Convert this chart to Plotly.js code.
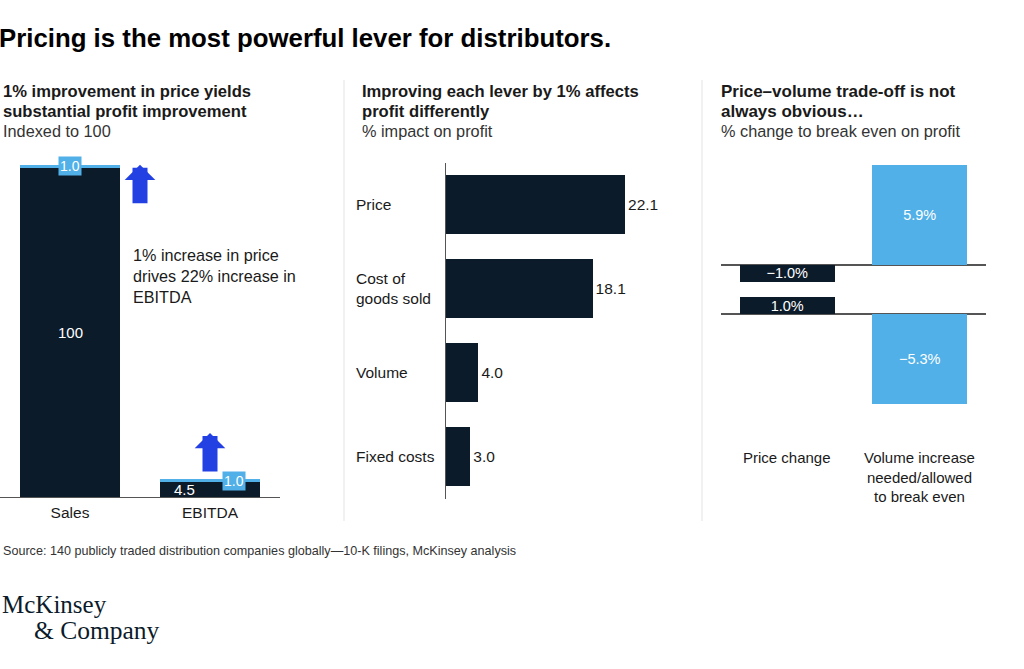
<!DOCTYPE html>
<html>
<head>
<meta charset="utf-8">
<script src="https://cdn.plot.ly/plotly-3.0.1.min.js"></script>
<style>
  html, body { margin: 0; padding: 0; background: #fff; }
  #chart { width: 1024px; height: 669px; }
</style>
</head>
<body>
<div id="chart"></div>
<script>
// ---------- DATA ----------
const p1Categories = ['Sales', 'EBITDA'];
const p1Base = [100, 4.5];
const p1Increase = [1.0, 1.0];

const p2Levers = ['Price', 'Cost of<br>goods sold', 'Volume', 'Fixed costs'];
const p2Impact = [22.1, 18.1, 4.0, 3.0];

const p3Categories = ['Price change', 'Volume increase<br>needed/allowed<br>to break even'];
const p3PriceCut = [-1.0, 5.9];   // price down 1% -> volume needed
const p3PriceRise = [1.0, -5.3];  // price up 1% -> volume allowed to drop

// ---------- STYLE ----------
const DARK = '#0c1b2a';
const LIGHT = '#51b0e8';
const ARROW = '#2341e3';
const TXT = '#1a1a1a';
const FONT = 'Liberation Sans, Arial, sans-serif';
const H = 669, W = 1024;
const py = p => 1 - p / H;
const px = p => p / W;
const fmtPct = v => v.toFixed(1).replace('-', '\u2212') + '%';

const traces = [
  // Panel 1: stacked base + increase
  {
    type: 'bar', x: p1Categories, y: p1Base, xaxis: 'x', yaxis: 'y',
    marker: { color: DARK }, width: 0.714, hoverinfo: 'skip'
  },
  {
    type: 'bar', x: p1Categories, y: p1Increase, xaxis: 'x', yaxis: 'y',
    marker: { color: LIGHT }, width: 0.714, hoverinfo: 'skip'
  },
  // Panel 2: horizontal bars
  {
    type: 'bar', orientation: 'h', y: p2Levers, x: p2Impact, xaxis: 'x2', yaxis: 'y2',
    marker: { color: DARK }, width: 0.702,
    text: p2Impact.map(v => v.toFixed(1)), textposition: 'outside',
    textfont: { family: FONT, size: 15.5, color: TXT }, cliponaxis: false, hoverinfo: 'skip'
  },
  // Panel 3: price cut scenario (top)
  {
    type: 'bar', x: p3Categories, y: p3PriceCut, xaxis: 'x3', yaxis: 'y3',
    marker: { color: [DARK, LIGHT] }, width: 0.717,
    text: p3PriceCut.map(fmtPct), textposition: 'inside', insidetextanchor: 'middle',
    constraintext: 'none',
    textfont: { family: FONT, size: 14.5, color: '#ffffff' }, hoverinfo: 'skip'
  },
  // Panel 3: price rise scenario (bottom)
  {
    type: 'bar', x: p3Categories, y: p3PriceRise, xaxis: 'x3', yaxis: 'y4',
    marker: { color: [DARK, LIGHT] }, width: 0.717,
    text: p3PriceRise.map(fmtPct), textposition: 'inside', insidetextanchor: 'middle',
    constraintext: 'none',
    textfont: { family: FONT, size: 14.5, color: '#ffffff' }, hoverinfo: 'skip'
  }
];

const annotations = [];
function txt(text, x, y, opts) {
  annotations.push(Object.assign({
    text: text, x: x, y: y, xref: 'paper', yref: 'paper', showarrow: false,
    xanchor: 'left', yanchor: 'middle', align: 'left',
    font: { family: FONT, size: 16, color: TXT }
  }, opts || {}));
}

// Main title
txt('<b>Pricing is the most powerful lever for distributors.</b>', px(-3), py(38), { font: { family: FONT, size: 25.8, color: '#000' } });

// Panel titles
const panelX = [1, 360, 719];
const panelT = [
  ['1% improvement in price yields', 'substantial profit improvement', 'Indexed to 100'],
  ['Improving each lever by 1% affects', 'profit differently', '% impact on profit'],
  ['Price\u2013volume trade-off is not', 'always obvious\u2026', '% change to break even on profit']
];
const titleSize = [16.6, 16.6, 17];
panelT.forEach((t, i) => {
  txt('<b>' + t[0] + '</b>', px(panelX[i]), py(91), { font: { family: FONT, size: titleSize[i], color: TXT } });
  txt('<b>' + t[1] + '</b>', px(panelX[i]), py(111), { font: { family: FONT, size: titleSize[i], color: TXT } });
  txt(t[2], px(panelX[i]), py(131), { font: { family: FONT, size: 16.3, color: '#333' } });
});

// Panel 1 labels
annotations.push({
  text: String(p1Base[0]), x: p1Categories[0], y: p1Base[0] / 2, xref: 'x', yref: 'y',
  showarrow: false, font: { family: FONT, size: 15, color: '#fff' }
});
annotations.push({
  text: p1Base[1].toFixed(1), x: p1Categories[1], y: p1Base[1] / 2, xref: 'x', yref: 'y',
  xshift: -26, showarrow: false, font: { family: FONT, size: 15, color: '#fff' }
});
annotations.push({
  text: p1Increase[0].toFixed(1), x: p1Categories[0], y: p1Base[0] + p1Increase[0] / 2,
  xref: 'x', yref: 'y', showarrow: false, bgcolor: LIGHT, borderpad: 1,
  font: { family: FONT, size: 14, color: '#fff' }
});
annotations.push({
  text: p1Increase[1].toFixed(1), x: p1Categories[1], y: p1Base[1] + p1Increase[1] / 2,
  xref: 'x', yref: 'y', xshift: 24, showarrow: false, bgcolor: LIGHT, borderpad: 1,
  font: { family: FONT, size: 14, color: '#fff' }
});
// Arrows
annotations.push({
  text: '', x: p1Categories[0], y: p1Base[0] + p1Increase[0], xref: 'x', yref: 'y',
  xshift: 70, showarrow: true, ax: 0, ay: 40, arrowhead: 1, arrowsize: 0.34,
  arrowwidth: 15, arrowcolor: ARROW, standoff: 0
});
annotations.push({
  text: '', x: p1Categories[1], y: p1Base[1] + p1Increase[1], xref: 'x', yref: 'y',
  yshift: 46, showarrow: true, ax: 0, ay: 40, arrowhead: 1, arrowsize: 0.34,
  arrowwidth: 15, arrowcolor: ARROW, standoff: 0
});
txt('1% increase in price<br>drives 22% increase in<br>EBITDA', px(131), py(276), { font: { family: FONT, size: 16.2, color: TXT } });

// Panel 2 category labels
p2Levers.forEach(l => {
  annotations.push({
    text: l, x: px(354), y: l, xref: 'paper', yref: 'y2', xanchor: 'left', align: 'left',
    showarrow: false, font: { family: FONT, size: 15.5, color: TXT }
  });
});

// Panel 3 category labels
p3Categories.forEach(c => {
  annotations.push({
    text: c, x: c, y: py(447), xref: 'x3', yref: 'paper', yanchor: 'top', align: 'center',
    showarrow: false, font: { family: FONT, size: 15, color: TXT }
  });
});

// Source and logo
txt('Source: 140 publicly traded distribution companies globally\u201410-K filings, McKinsey analysis', px(1), py(551), { font: { family: FONT, size: 12.6, color: '#333' } });
txt('McKinsey', px(0), py(604), { font: { family: 'Liberation Serif, serif', size: 25, color: '#0c1b2a' } });
txt('&amp; Company', px(32), py(630), { font: { family: 'Liberation Serif, serif', size: 25.5, color: '#0c1b2a' } });

const hidden = { showgrid: false, zeroline: false, showticklabels: false, showline: false, ticks: '', fixedrange: true };

const layout = {
  width: W, height: H,
  margin: { l: 0, r: 0, t: 0, b: 0 },
  paper_bgcolor: '#fff', plot_bgcolor: 'rgba(0,0,0,0)',
  showlegend: false, barmode: 'stack',
  font: { family: FONT, color: TXT },
  xaxis: {
    domain: [px(0), px(280)], anchor: 'y', type: 'category',
    showgrid: false, zeroline: false, showline: true, linecolor: '#555', linewidth: 1.3,
    ticks: '', tickfont: { family: FONT, size: 15.5, color: TXT }, ticklabelstandoff: 1
  },
  yaxis: Object.assign({}, hidden, { domain: [py(497), py(151.5)], range: [0, 105], anchor: 'x' }),
  xaxis2: Object.assign({}, hidden, { domain: [px(446), px(689)], range: [0, 30], anchor: 'y2' }),
  yaxis2: {
    domain: [py(498.5), py(162.5)], anchor: 'x2', autorange: 'reversed', type: 'category',
    showgrid: false, zeroline: false, showticklabels: false, ticks: '',
    showline: true, linecolor: '#555', linewidth: 1.3
  },
  xaxis3: Object.assign({}, hidden, { domain: [px(721), px(986)], anchor: 'y4', type: 'category' }),
  yaxis3: Object.assign({}, hidden, {
    domain: [py(288.8), py(157.9)], range: [-1.4, 6.3], anchor: 'x3',
    zeroline: true, zerolinecolor: '#555', zerolinewidth: 1.5
  }),
  yaxis4: Object.assign({}, hidden, {
    domain: [py(416), py(290.2)], range: [-6, 1.4], anchor: 'x3',
    zeroline: true, zerolinecolor: '#555', zerolinewidth: 1.5
  }),
  shapes: [
    { type: 'line', xref: 'paper', yref: 'paper', x0: px(344), x1: px(344), y0: py(80), y1: py(521), line: { color: '#e3e3e3', width: 1 } },
    { type: 'line', xref: 'paper', yref: 'paper', x0: px(702), x1: px(702), y0: py(80), y1: py(521), line: { color: '#e3e3e3', width: 1 } }
  ],
  annotations: annotations
};

Plotly.newPlot('chart', traces, layout, { staticPlot: true, displayModeBar: false });
</script>
</body>
</html>
